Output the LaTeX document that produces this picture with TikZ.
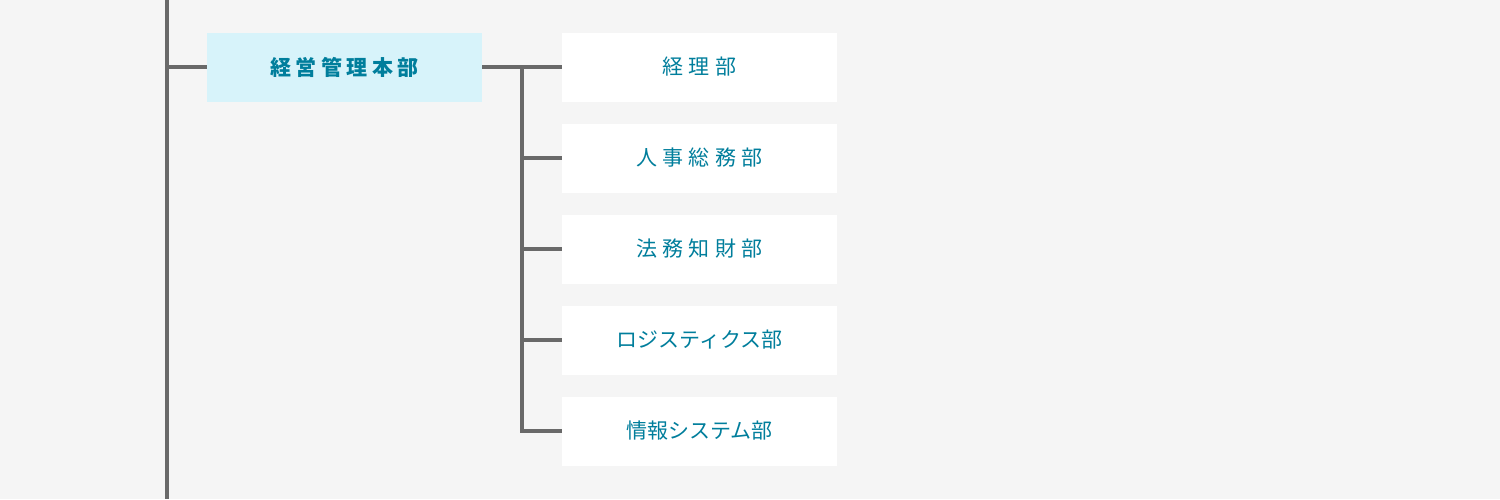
\documentclass[tikz,border=0pt]{standalone}
\usepackage{fontspec}
\newfontfamily\jpfont{Noto Sans CJK JP}
\definecolor{bgc}{HTML}{F5F5F5}
\definecolor{linec}{HTML}{696969}
\definecolor{mainfill}{HTML}{D7F3FA}
\definecolor{txtc}{HTML}{007E9C}
\newcommand{\gapk}{\kern5.5pt}
\newcommand{\gapb}{\kern4.4pt}
\begin{document}
\begin{tikzpicture}[x=1pt,y=-1pt,
  mainbox/.style={fill=mainfill, minimum width=275pt, minimum height=69pt, inner sep=0pt, text=txtc, font=\jpfont\bfseries\fontsize{21pt}{25pt}\selectfont},
  childbox/.style={fill=white, minimum width=275pt, minimum height=69pt, inner sep=0pt, text=txtc, font=\jpfont\fontsize{21pt}{25pt}\selectfont},
  conn/.style={draw=linec, line width=4pt}]
\fill[bgc] (0,0) rectangle (1500,499);
\useasboundingbox (0,0) rectangle (1500,499);
\coordinate (top) at (166.5,0);
\coordinate (bot) at (166.5,499);
\coordinate (junc) at (166.5,67);
\node[mainbox] (main) at (344.5,67) {経\gapb 営\gapb 管\gapb 理\gapb 本\gapb 部};
\node[childbox] (c1) at (699.5,67) {経\gapk 理\gapk 部};
\node[childbox] (c2) at (699.5,158) {人\gapk 事\gapk 総\gapk 務\gapk 部};
\node[childbox] (c3) at (699.5,249) {法\gapk 務\gapk 知\gapk 財\gapk 部};
\node[childbox] (c4) at (699.5,340) {ロジスティクス部};
\node[childbox] (c5) at (699.5,431) {情報システム部};
\draw[conn] (top) -- (bot);
\draw[conn] (junc) -- (main.west);
\draw[conn] (main.east) -- (c1.west);
\coordinate (bx) at (522,67);
\draw[conn] (bx) |- (c5.west);
\draw[conn] (bx |- c2.west) -- (c2.west);
\draw[conn] (bx |- c3.west) -- (c3.west);
\draw[conn] (bx |- c4.west) -- (c4.west);
\end{tikzpicture}
\end{document}
